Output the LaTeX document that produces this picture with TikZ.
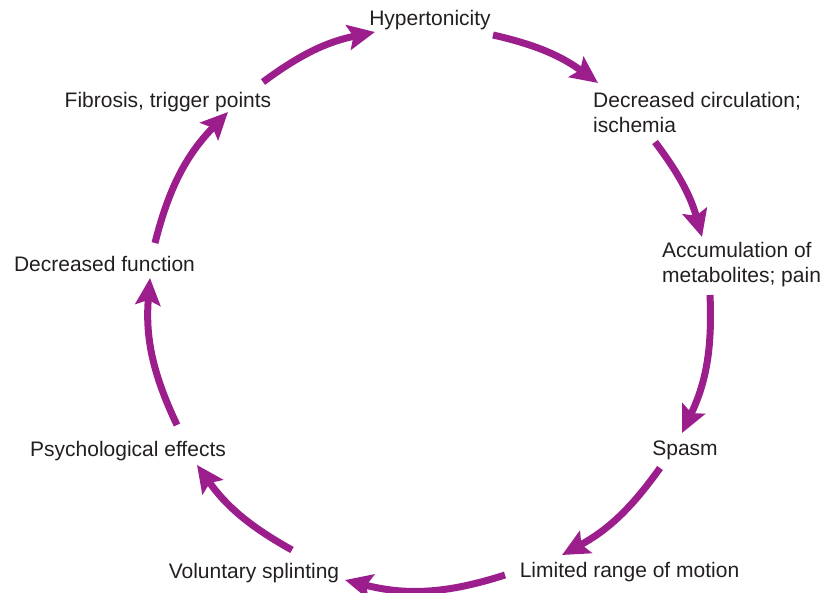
\documentclass[tikz,border=0pt]{standalone}
\usepackage{fontspec}
\setmainfont{Liberation Sans}
\usetikzlibrary{arrows.meta}
\definecolor{cyc}{RGB}{156,30,140}
\definecolor{txt}{RGB}{35,31,32}
\tikzset{
  lbl/.style={inner sep=0pt, text=txt, font=\fontsize{21}{25}\selectfont},
  cycarrow/.style={draw=cyc, line width=7pt, -{Stealth[length=27pt, width=25pt, inset=5pt]}}
}
\begin{document}
\begin{tikzpicture}[x=1pt,y=1pt]
\useasboundingbox (0,0) rectangle (824,592);
% labels
\node[lbl, anchor=base] (hyp) at (430,566) {Hypertonicity};
\node[lbl, anchor=base west] (circ) at (593,484.5) {\begin{tabular}[t]{@{}l@{}}Decreased circulation;\\ ischemia\end{tabular}};
\node[lbl, anchor=base west] (acc) at (662,334.5) {\begin{tabular}[t]{@{}l@{}}Accumulation of\\ metabolites; pain\end{tabular}};
\node[lbl, anchor=base] (spasm) at (685,137) {Spasm};
\node[lbl, anchor=base] (lim) at (629.5,14.5) {Limited range of motion};
\node[lbl, anchor=base] (vol) at (254,14) {Voluntary splinting};
\node[lbl, anchor=base] (psy) at (128,135.5) {Psychological effects};
\node[lbl, anchor=base] (dfun) at (104.5,320.5) {Decreased function};
\node[lbl, anchor=base] (fib) at (168,484.5) {Fibrosis, trigger points};
% arrow end points
\coordinate (a1s) at (263,510); \coordinate (a1e) at (375,560);
\coordinate (a2s) at (493,557); \coordinate (a2e) at (598,509);
\coordinate (a3s) at (655,450); \coordinate (a3e) at (702,355);
\coordinate (a4s) at (710,297); \coordinate (a4e) at (682,159);
\coordinate (a5s) at (660,124); \coordinate (a5e) at (562,37);
\coordinate (a6s) at (505,17);  \coordinate (a6e) at (345,12);
\coordinate (a7s) at (292,42);  \coordinate (a7e) at (197,127);
\coordinate (a8s) at (177,167); \coordinate (a8e) at (150,314);
\coordinate (a9s) at (155,349); \coordinate (a9e) at (228,480);
% arrows
\draw[cycarrow] (a1s) to[bend left=12.5] (a1e);
\draw[cycarrow] (a2s) to[bend left=11.7] (a2e);
\draw[cycarrow] (a3s) to[bend left=10.8] (a3e);
\draw[cycarrow] (a4s) to[bend left=14] (a4e);
\draw[cycarrow] (a5s) to[bend left=13] (a5e);
\draw[cycarrow] (a6s) to[bend left=16] (a6e);
\draw[cycarrow] (a7s) to[bend left=12.7] (a7e);
\draw[cycarrow] (a8s) to[bend left=15] (a8e);
\draw[cycarrow] (a9s) to[bend left=15] (a9e);
\end{tikzpicture}
\end{document}
